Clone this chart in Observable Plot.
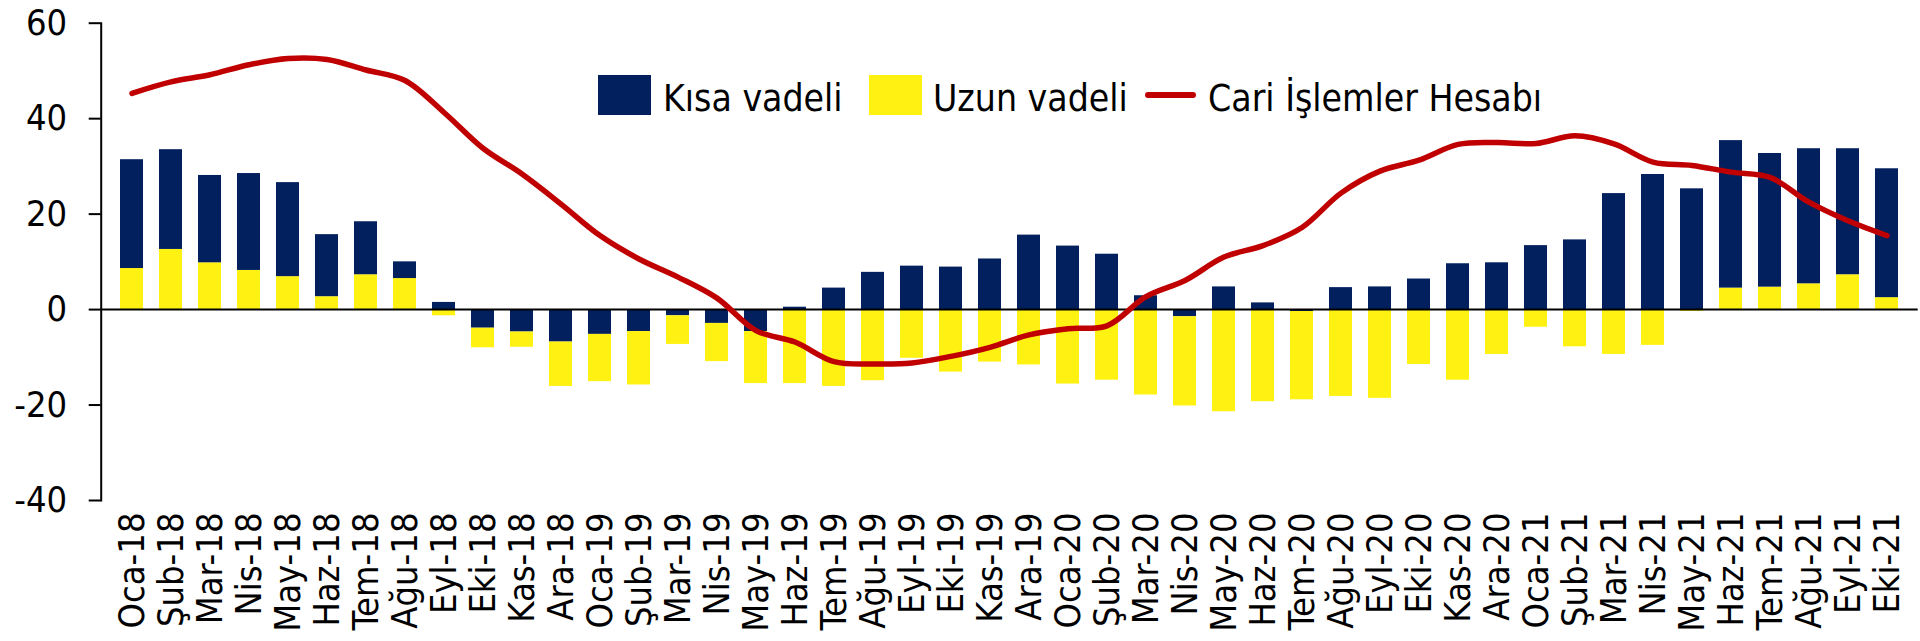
<!DOCTYPE html>
<html>
<head>
<meta charset="utf-8">
<script src="https://cdn.jsdelivr.net/npm/d3@7"></script>
<script src="https://cdn.jsdelivr.net/npm/@observablehq/plot@0.6"></script>
<style>
  html, body { margin: 0; padding: 0; background: #fff; }
  #wrap { position: relative; width: 1920px; height: 641px; overflow: hidden; }
  .lg { position: absolute; font-family: 'DejaVu Sans Condensed', 'DejaVu Sans', sans-serif; font-size: 37px; line-height: 40px; color: #000; white-space: nowrap; }
  .sw { position: absolute; }
</style>
</head>
<body>
<div id="wrap">
  <div id="chart"></div>
  <div class="sw" style="left:598px;top:75px;width:53px;height:40px;background:#021F5E"></div>
  <div class="lg" style="left:663px;top:79px">Kısa vadeli</div>
  <div class="sw" style="left:869px;top:75px;width:53px;height:40px;background:#FFF212"></div>
  <div class="lg" style="left:933px;top:79px">Uzun vadeli</div>
  <div class="sw" style="left:1145px;top:92px;width:51px;height:6px;border-radius:3px;background:#C00000"></div>
  <div class="lg" style="left:1208px;top:79px">Cari İşlemler Hesabı</div>
</div>
<script>
const months = ["Oca-18","Şub-18","Mar-18","Nis-18","May-18","Haz-18","Tem-18","Ağu-18","Eyl-18","Eki-18","Kas-18","Ara-18",
  "Oca-19","Şub-19","Mar-19","Nis-19","May-19","Haz-19","Tem-19","Ağu-19","Eyl-19","Eki-19","Kas-19","Ara-19",
  "Oca-20","Şub-20","Mar-20","Nis-20","May-20","Haz-20","Tem-20","Ağu-20","Eyl-20","Eki-20","Kas-20","Ara-20",
  "Oca-21","Şub-21","Mar-21","Nis-21","May-21","Haz-21","Tem-21","Ağu-21","Eyl-21","Eki-21"];

const kisa = [22.8, 20.9, 18.3, 20.3, 19.7, 13.0, 11.1, 3.5, 1.5, -3.9, -4.7, -6.8,
  -5.2, -4.6, -1.3, -2.9, -4.6, 0.5, 4.5, 7.8, 9.1, 8.9, 10.6, 15.6,
  13.3, 11.6, 2.9, -1.5, 4.75, 1.4, -0.4, 4.6, 4.75, 6.4, 9.6, 9.8,
  13.4, 14.6, 24.3, 28.3, 25.3, 30.9, 28.0, 28.3, 26.4, 27.0];

const uzun = [8.6, 12.6, 9.8, 8.2, 6.9, 2.7, 7.3, 6.5, -1.3, -4.1, -3.2, -9.3,
  -9.9, -11.2, -6.0, -8.0, -10.9, -15.5, -16.1, -14.9, -10.2, -13.1, -11.0, -11.6,
  -15.6, -14.8, -17.9, -18.7, -21.4, -19.3, -18.5, -18.2, -18.6, -11.5, -14.8, -9.4,
  -3.7, -7.8, -9.4, -7.5, -0.4, 4.5, 4.7, 5.4, 7.3, 2.5];

const cari = [45.3, 47.7, 49.2, 51.3, 52.6, 52.4, 50.2, 48.0, 41.3, 33.8, 28.4, 22.1,
  15.5, 10.6, 6.8, 2.4, -4.4, -6.8, -10.9, -11.4, -11.2, -9.8, -7.9, -5.3,
  -4.0, -3.4, 2.7, 6.1, 11.0, 13.4, 17.2, 24.4, 29.0, 31.3, 34.6, 35.0,
  34.8, 36.4, 34.7, 30.9, 30.2, 28.8, 27.7, 22.5, 18.6, 15.5];

const yTicks = [-40, -20, 0, 20, 40, 60];
const seriesNames = ["Kısa vadeli", "Uzun vadeli"];
const seriesColors = ["#021F5E", "#FFF212"];

// Stack: positives -> Uzun at the base, Kısa on top; negatives -> Kısa next to zero, Uzun below.
const rows = [];
months.forEach((m, i) => {
  let pos = 0, neg = 0;
  const k = kisa[i], u = uzun[i];
  if (u >= 0) { rows.push({month: m, series: seriesNames[1], y1: pos, y2: pos + u}); pos += u; }
  if (k >= 0) { rows.push({month: m, series: seriesNames[0], y1: pos, y2: pos + k}); pos += k; }
  if (k < 0) { rows.push({month: m, series: seriesNames[0], y1: neg, y2: neg + k}); neg += k; }
  if (u < 0) { rows.push({month: m, series: seriesNames[1], y1: neg, y2: neg + u}); neg += u; }
});
const lineData = months.map((m, i) => ({month: m, value: cari[i]}));

const chart = Plot.plot({
  width: 1920,
  height: 641,
  marginLeft: 100.7,
  marginRight: 2.3,
  marginTop: 22.7,
  marginBottom: 141,
  style: {fontFamily: "'DejaVu Sans Condensed', 'DejaVu Sans', sans-serif", fontSize: "36px", color: "#000", background: "#fff"},
  x: {domain: months, paddingInner: 0.42, paddingOuter: 0.21, label: null},
  y: {domain: [-40, 60], label: null},
  color: {domain: seriesNames, range: seriesColors},
  marks: [
    Plot.barY(rows, {x: "month", y1: "y1", y2: "y2", fill: "series", inset: 0}),
    Plot.ruleY([0], {stroke: "#000", strokeWidth: 2}),
    Plot.lineY(lineData, {x: "month", y: "value", stroke: "#C00000", strokeWidth: 5.5, curve: "catmull-rom", strokeLinecap: "round"}),
    Plot.frame({anchor: "left", stroke: "#000", strokeWidth: 2}),
    Plot.axisY({ticks: yTicks, tickFormat: d => String(d), tickSize: 12, tickPadding: 22, fontSize: 36, strokeWidth: 2, label: null}),
    Plot.axisX({tickSize: 0, tickPadding: 12, tickRotate: -90, fontSize: 36, label: null})
  ]
});
document.getElementById("chart").appendChild(chart);
</script>
</body>
</html>
